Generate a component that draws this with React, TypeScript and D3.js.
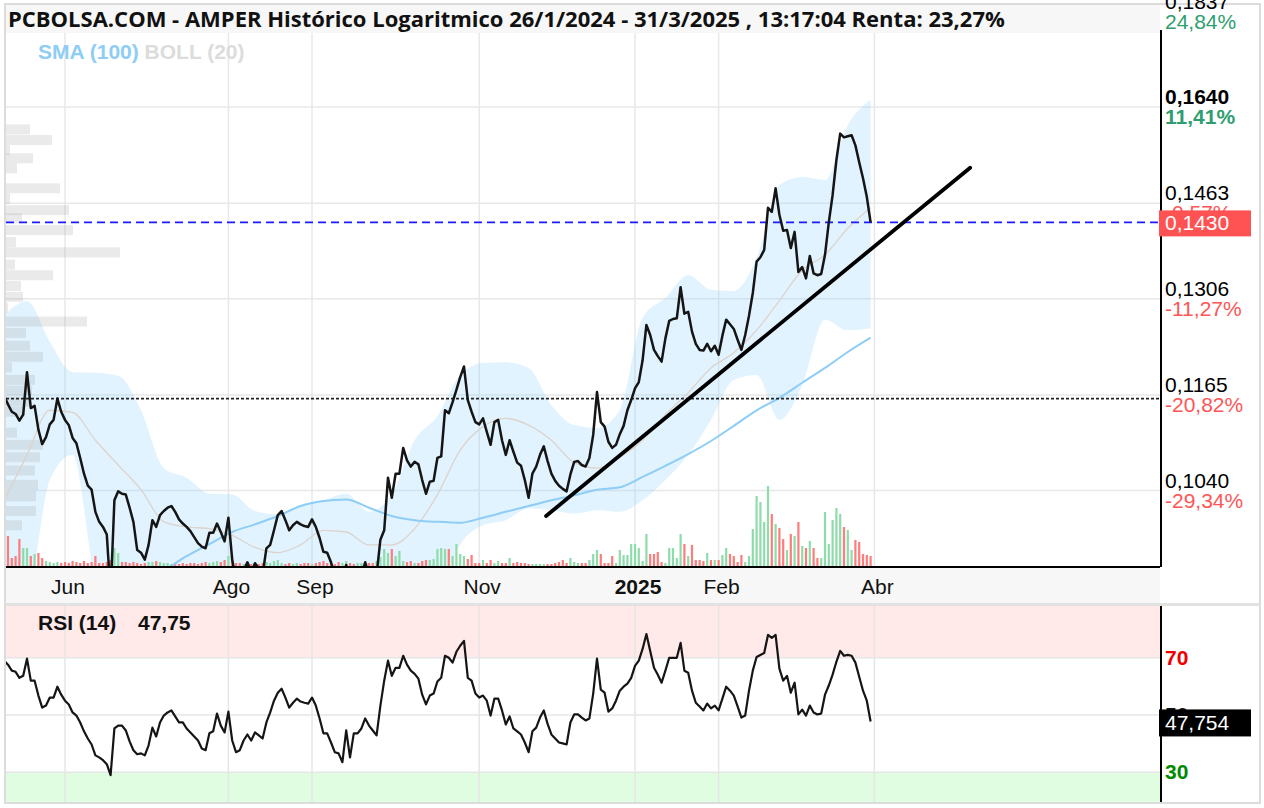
import React from 'react';
import * as d3 from 'd3';

// trading days start here (index 0), BME holidays skipped
const START = '2024-05-10';
const HOLIDAYS = ['2024-12-25', '2024-12-26', '2025-01-01'];

// daily closes, AMPER (EUR)
const closes = [
  0.1163, 0.1152, 0.1142, 0.1139, 0.1130, 0.1138, 0.1197, 0.1147, 0.1150, 0.1118,
  0.1099, 0.1108, 0.1125, 0.1131, 0.1160, 0.1142, 0.1131, 0.1124, 0.1107, 0.1100,
  0.1081, 0.1061, 0.1046, 0.1041, 0.1014, 0.1002, 0.0996, 0.0987, 0.0919, 0.1028,
  0.1039, 0.1036, 0.1035, 0.1019, 0.1002, 0.0969, 0.0966, 0.0958, 0.0975, 0.1004,
  0.0996, 0.1010, 0.1015, 0.1019, 0.1021, 0.1014, 0.1005, 0.1000, 0.0996, 0.0991,
  0.0984, 0.0977, 0.0973, 0.0971, 0.0989, 0.0989, 0.1000, 0.0990, 0.0979, 0.1007,
  0.0958, 0.0935, 0.0930, 0.0946, 0.0955, 0.0944, 0.0954, 0.0948, 0.0941, 0.0971,
  0.0975, 0.0992, 0.1010, 0.1015, 0.1004, 0.0992, 0.0998, 0.1002, 0.0999, 0.0997,
  0.0996, 0.1005, 0.0996, 0.0983, 0.0967, 0.0966, 0.0955, 0.0941, 0.0930, 0.0937,
  0.0952, 0.0935, 0.0924, 0.0930, 0.0941, 0.0955, 0.0941, 0.0930, 0.0941, 0.0981,
  0.0992, 0.1056, 0.1031, 0.1061, 0.1061, 0.1094, 0.1078, 0.1070, 0.1076, 0.1073,
  0.1053, 0.1036, 0.1051, 0.1052, 0.1081, 0.1083, 0.1144, 0.1140, 0.1155, 0.1172,
  0.1190, 0.1205, 0.1158, 0.1142, 0.1128, 0.1125, 0.1133, 0.1115, 0.1098, 0.1128,
  0.1131, 0.1104, 0.1085, 0.1104, 0.1089, 0.1075, 0.1071, 0.1053, 0.1031, 0.1061,
  0.1070, 0.1085, 0.1096, 0.1077, 0.1061, 0.1052, 0.1046, 0.1042, 0.1039, 0.1060,
  0.1076, 0.1077, 0.1072, 0.1070, 0.1081, 0.1111, 0.1169, 0.1128, 0.1122, 0.1102,
  0.1094, 0.1098, 0.1112, 0.1123, 0.1144, 0.1158, 0.1174, 0.1183, 0.1214, 0.1266,
  0.1251, 0.1229, 0.1220, 0.1212, 0.1246, 0.1272, 0.1275, 0.1276, 0.1324, 0.1283,
  0.1286, 0.1256, 0.1238, 0.1229, 0.1228, 0.1238, 0.1227, 0.1235, 0.1222, 0.1250,
  0.1274, 0.1267, 0.1260, 0.1244, 0.1229, 0.1251, 0.1280, 0.1315, 0.1365, 0.1372,
  0.1384, 0.1455, 0.1448, 0.1489, 0.1443, 0.1416, 0.1417, 0.1387, 0.1414, 0.1348,
  0.1356, 0.1338, 0.1374, 0.1346, 0.1343, 0.1345, 0.1376, 0.1430, 0.1477, 0.1540,
  0.1589, 0.1582, 0.1584, 0.1586, 0.1567, 0.1536, 0.1507, 0.1474, 0.1430,
];

// daily volume, millions of shares
const volumes = [
  1.5, 3.0, 0.8, 1.0, 2.7, 1.8, 1.8, 1.0, 1.2, 1.3,
  0.8, 0.5, 0.4, 0.3, 0.4, 0.3, 0.4, 0.3, 0.5, 0.4,
  0.3, 0.5, 0.3, 0.4, 1.0, 0.3, 0.3, 0.4, 0.6, 1.8,
  1.3, 0.4, 0.4, 0.3, 0.4, 0.3, 0.2, 0.3, 0.4, 0.4,
  0.5, 0.4, 0.3, 0.3, 0.2, 0.3, 0.2, 0.3, 0.2, 0.3,
  0.3, 0.2, 0.3, 0.4, 0.3, 0.4, 0.5, 0.4, 0.6, 1.0,
  0.8, 0.3, 0.3, 0.2, 0.3, 0.2, 0.3, 0.2, 0.3, 0.4,
  0.3, 0.5, 0.6, 0.3, 0.2, 0.3, 0.2, 0.3, 0.2, 0.3,
  0.3, 0.2, 0.3, 0.4, 0.5, 0.3, 0.3, 0.2, 0.4, 0.3,
  0.5, 0.3, 0.2, 0.3, 0.3, 0.4, 0.3, 0.3, 0.5, 0.9,
  1.7, 1.3, 1.7, 1.0, 1.5, 0.5, 0.4, 0.5, 0.3, 0.3,
  0.5, 0.6, 0.6, 0.7, 1.7, 1.8, 1.7, 1.7, 1.0, 2.2,
  1.2, 1.0, 0.7, 1.1, 0.3, 0.3, 0.6, 0.3, 0.6, 0.3,
  0.5, 0.3, 0.3, 0.8, 0.3, 0.4, 0.3, 0.3, 0.2, 0.2,
  0.2, 0.2, 0.2, 0.2, 0.2, 0.3, 0.4, 0.6, 0.3, 0.8,
  0.4, 0.3, 0.3, 0.3, 0.6, 1.2, 1.6, 1.2, 0.3, 0.3,
  1.0, 0.3, 1.6, 1.1, 1.1, 2.2, 2.2, 1.8, 0.5, 3.2,
  1.2, 1.2, 1.4, 0.4, 0.3, 1.8, 1.8, 0.8, 3.2, 2.2,
  1.0, 2.1, 0.6, 0.6, 0.5, 1.3, 0.6, 0.6, 0.6, 1.1,
  1.8, 1.2, 1.0, 0.4, 1.1, 0.4, 1.0, 3.7, 7.0, 6.4,
  4.4, 8.0, 5.2, 4.2, 3.8, 2.7, 1.6, 3.2, 3.0, 4.4,
  2.0, 1.8, 2.5, 1.8, 0.8, 0.8, 5.4, 2.2, 4.6, 5.8,
  5.2, 3.9, 3.6, 1.6, 2.6, 2.4, 1.2, 1.1, 1.0,
];

// RSI (14), daily
const rsi14 = [
  69.0, 67.6, 65.5, 65.1, 63.0, 63.7, 69.7, 62.0, 62.0, 56.8,
  52.6, 53.3, 56.1, 56.1, 59.9, 57.1, 55.0, 53.7, 50.9, 49.8,
  47.4, 44.3, 41.8, 39.7, 35.9, 35.2, 34.2, 32.8, 29.0, 45.3,
  46.3, 46.3, 44.6, 40.8, 37.7, 36.3, 36.6, 35.9, 39.4, 45.6,
  42.5, 47.4, 49.8, 50.9, 51.6, 49.5, 47.4, 47.4, 45.3, 43.9,
  42.5, 41.1, 38.3, 37.7, 43.6, 44.3, 50.5, 46.3, 43.9, 51.2,
  41.1, 37.0, 37.7, 41.1, 43.2, 41.1, 43.9, 42.9, 41.8, 47.4,
  50.9, 55.0, 57.8, 59.2, 56.1, 52.6, 54.3, 55.7, 54.7, 54.3,
  54.0, 56.1, 53.3, 48.8, 43.6, 43.6, 40.4, 37.0, 36.6, 33.5,
  44.6, 35.2, 43.6, 43.6, 45.3, 48.8, 46.3, 44.6, 42.9, 53.3,
  62.0, 69.0, 63.7, 66.5, 66.5, 70.7, 67.6, 65.5, 64.4, 62.7,
  57.1, 53.7, 56.8, 57.5, 61.7, 63.0, 70.7, 70.0, 68.3, 72.1,
  74.2, 75.9, 63.0, 62.0, 57.5, 56.1, 56.8, 55.0, 49.8, 55.7,
  55.7, 51.6, 46.7, 49.5, 45.3, 44.3, 43.2, 40.4, 37.0, 44.3,
  45.6, 49.1, 51.6, 46.9, 43.2, 41.8, 40.4, 40.1, 39.7, 47.4,
  50.2, 50.2, 49.1, 48.1, 48.8, 57.5, 69.7, 58.9, 57.8, 51.2,
  52.3, 55.0, 58.5, 59.9, 61.0, 63.0, 67.2, 69.0, 73.1, 78.3,
  72.4, 66.5, 64.1, 61.3, 65.5, 70.0, 70.0, 70.0, 75.2, 65.5,
  64.8, 58.5, 54.3, 53.0, 51.6, 54.0, 52.3, 53.3, 51.6, 55.7,
  59.9, 58.5, 56.8, 53.0, 49.1, 49.8, 58.5, 65.5, 70.3, 71.0,
  71.7, 78.0, 77.0, 78.0, 66.2, 62.0, 63.7, 57.8, 61.3, 50.2,
  51.9, 49.8, 53.3, 50.9, 50.2, 50.5, 57.1, 60.3, 64.1, 68.6,
  72.4, 70.7, 71.0, 70.7, 68.3, 63.4, 58.5, 55.0, 47.754,
];

// Bollinger (20) read every 6 trading days from index 0
const bandStep = 6;
const bollUpper = [
  0.1281, 0.1302, 0.1241, 0.1197, 0.1196, 0.1192, 0.1144, 0.1068, 0.1056, 0.1036,
  0.1035, 0.1015, 0.1011, 0.1022, 0.1028, 0.1036, 0.1014, 0.1035, 0.1104, 0.1136,
  0.1193, 0.1210, 0.1211, 0.1203, 0.1151, 0.1124, 0.1120, 0.1144, 0.1277, 0.1307,
  0.1343, 0.1320, 0.1318, 0.1371, 0.1495, 0.1509, 0.1504, 0.1605, 0.1654,
];
const bollMid = [
  0.1028, 0.1085, 0.1144, 0.1141, 0.1104, 0.1072, 0.1041, 0.1002, 0.0996, 0.0994,
  0.0986, 0.0972, 0.0966, 0.0975, 0.0992, 0.0990, 0.0975, 0.0975, 0.0994, 0.1035,
  0.1091, 0.1122, 0.1133, 0.1124, 0.1104, 0.1075, 0.1068, 0.1082, 0.1104, 0.1138,
  0.1168, 0.1203, 0.1225, 0.1258, 0.1303, 0.1351, 0.1376, 0.1420, 0.1455,
];
const bollLower = [
  0.0892, 0.0913, 0.1053, 0.1085, 0.0935, 0.0892, 0.0872, 0.0872, 0.0882, 0.0892,
  0.0892, 0.0892, 0.0902, 0.0913, 0.0913, 0.0902, 0.0892, 0.0872, 0.0872, 0.0913,
  0.0975, 0.0998, 0.1004, 0.1018, 0.1016, 0.1012, 0.1016, 0.1014, 0.1028, 0.1053,
  0.1085, 0.1131, 0.1186, 0.1193, 0.1131, 0.1179, 0.1274, 0.1258, 0.1261,
];

// SMA (100), every 6 trading days from index 36
const smaStart = 36;
const sma100 = [
  0.0935, 0.0946, 0.0962, 0.0976, 0.0990, 0.0999, 0.1009, 0.1021, 0.1027, 0.1029,
  0.1019, 0.1009, 0.1004, 0.1002, 0.1001, 0.1007, 0.1014, 0.1021, 0.1028, 0.1034,
  0.1041, 0.1044, 0.1057, 0.1071, 0.1086, 0.1103, 0.1123, 0.1144, 0.1161, 0.1182,
  0.1203, 0.1226, 0.1247,
];

// volume by price (left side)
const profilePrices = [
  0.1597, 0.1577, 0.1558, 0.1543, 0.1525, 0.1489, 0.1471, 0.1451, 0.1437, 0.1417,
  0.1397, 0.1380, 0.1360, 0.1343, 0.1326, 0.1309, 0.1292, 0.1271, 0.1254, 0.1235,
  0.1219, 0.1204, 0.1186, 0.1171, 0.1156, 0.1142, 0.1114, 0.1098, 0.1082, 0.1065,
  0.1047, 0.1033, 0.1015, 0.0998,
];
const profileVolumes = [
  2.4, 4.6, 0.4, 2.7, 1.1, 5.4, 0.4, 6.3, 1.6, 6.7,
  1.0, 11.4, 0.9, 4.7, 1.5, 1.7, 0.2, 8.1, 2.0, 2.4,
  3.7, 0.6, 2.9, 2.6, 2.4, 1.9, 1.1, 3.7, 3.4, 2.9,
  3.2, 3.0, 3.0, 1.6,
];

// right axis
const axisPrices = [0.1837, 0.164, 0.1463, 0.1306, 0.1165, 0.104];
const axisPriceLabels = ['0,1837', '0,1640', '0,1463', '0,1306', '0,1165', '0,1040'];
const axisPctLabels = ['24,84%', '11,41%', '-0,57%', '-11,27%', '-20,82%', '-29,34%'];

const monthTicks = ['2024-06-01', '2024-08-01', '2024-09-01', '2024-11-01', '2025-01-01', '2025-02-01', '2025-04-01'];
const monthLabels = ['Jun', 'Ago', 'Sep', 'Nov', '2025', 'Feb', 'Abr'];

// drawn support line: [trading day index, price]
const trendLine: [number, number][] = [[142.6, 0.1009], [254.2, 0.1526]];
const refPrice = 0.116;

const rsiLevels = [70, 50, 30];

const FONT = '"Liberation Sans", Arial, sans-serif';

export default function App() {
  const W = 1264;
  const H = 808;
  const L = 6, R = 1160, T = 33, B = 567;
  const rT = 606, rB = 802;

  const parse = d3.timeParse('%Y-%m-%d');
  const fmt = d3.timeFormat('%Y-%m-%d');
  const tradingDays = d3.timeDay
    .range(parse(START)!, parse('2025-04-30')!)
    .filter((d) => d.getDay() !== 0 && d.getDay() !== 6 && !HOLIDAYS.includes(fmt(d)));
  const dayOf = (s: string) => tradingDays.findIndex((d) => d >= parse(s)!);

  const x = d3.scaleLinear().domain([0, closes.length - 1]).range([4.2, 870.6]);
  const y = d3.scaleLog().domain([0.09497, 0.17907]).range([B, T]);
  const yr = d3.scaleLinear().domain([19.6, 88.1]).range([rB, rT]);
  const yv = d3.scaleLinear().domain([0, 8]).range([B - 1, B - 81]);
  const xp = d3.scaleLinear().domain([0, 12]).range([0, 120]);

  const bandX = (k: number) => x(k * bandStep);
  const area = d3
    .area<number>()
    .x((_, k) => bandX(k))
    .y0((_, k) => y(bollLower[k]))
    .y1((d) => y(d))
    .curve(d3.curveMonotoneX);
  const bandLine = d3.line<number>().x((_, k) => bandX(k)).y((d) => y(d)).curve(d3.curveMonotoneX);
  const smaLine = d3
    .line<number>()
    .x((_, k) => x(smaStart + k * bandStep))
    .y((d) => y(d))
    .curve(d3.curveMonotoneX);
  const priceLine = d3.line<number>().x((_, i) => x(i)).y((d) => y(d));
  const rsiLine = d3.line<number>().x((_, i) => x(i)).y((d) => yr(d));

  const tickX = monthTicks.map((m) => x(dayOf(m)));
  const last = closes[closes.length - 1];
  const lastRsi = rsi14[rsi14.length - 1];

  return (
    <svg
      width={W}
      height={H}
      style={{ position: 'absolute', left: 0, top: 0, background: '#fff' }}
      fontFamily={FONT}
    >
      <defs>
        <clipPath id="main">
          <rect x={L} y={T} width={R - L} height={B - T} />
        </clipPath>
        <clipPath id="rsi">
          <rect x={L} y={rT} width={R - L} height={rB - rT} />
        </clipPath>
      </defs>

      {/* frame and bands */}
      <rect x={6} y={5} width={R - 6} height={T - 5} fill="#f7f7f7" />
      <rect x={L} y={B} width={R - L} height={603 - B} fill="#f7f7f7" />
      <rect x={5} y={603} width={1255} height={3} fill="#e2e2e2" />
      <rect x={5} y={4} width={1255} height={799} fill="none" stroke="#dcdcdc" strokeWidth={2} />

      <text x={8} y={27} fontFamily='"Open Sans", sans-serif' fontWeight="bold" fontSize={22} fill="#111">
        PCBOLSA.COM - AMPER Histórico Logaritmico 26/1/2024 - 31/3/2025 , 13:17:04 Renta: 23,27%
      </text>

      {/* main panel */}
      <g clipPath="url(#main)">
        {tickX.map((tx, k) => (
          <line key={'vg' + k} x1={tx} x2={tx} y1={T} y2={B} stroke="#e8e8e8" strokeWidth={1.5} />
        ))}
        {axisPrices.map((p, k) => (
          <line key={'hg' + k} x1={L} x2={R} y1={y(p)} y2={y(p)} stroke="#e8e8e8" strokeWidth={1.5} />
        ))}
        <path d={area(bollUpper) || ''} fill="rgba(135,206,250,0.25)" />
        {profilePrices.map((p, k) => (
          <rect key={'pf' + k} x={L} y={y(p) - 5} width={xp(profileVolumes[k])} height={10} fill="rgba(160,160,160,0.22)" />
        ))}
        {volumes.map((v, i) => {
          const up = i === 0 || closes[i] >= closes[i - 1];
          return (
            <rect
              key={'v' + i}
              x={x(i) - 1.1}
              y={yv(v)}
              width={2.2}
              height={yv(0) - yv(v)}
              fill={up ? '#8ddcaa' : '#ff7c7c'}
            />
          );
        })}
        <path d={bandLine(bollMid) || ''} fill="none" stroke="#ddd3cb" strokeWidth={1.3} />
        <path d={smaLine(sma100) || ''} fill="none" stroke="#8ecdf5" strokeWidth={2} />
        <line x1={L} x2={R} y1={y(refPrice)} y2={y(refPrice)} stroke="#222" strokeWidth={1.6} strokeDasharray="3,2" />
        <line x1={L} x2={R} y1={y(last)} y2={y(last)} stroke="#1a1aff" strokeWidth={1.8} strokeDasharray="8,5" />
        <path d={priceLine(closes) || ''} fill="none" stroke="#151515" strokeWidth={2.5} strokeLinejoin="round" />
        <line
          x1={x(trendLine[0][0])}
          y1={y(trendLine[0][1])}
          x2={x(trendLine[1][0])}
          y2={y(trendLine[1][1])}
          stroke="#000"
          strokeWidth={3.8}
          strokeLinecap="round"
        />
      </g>
      <line x1={L} x2={R} y1={B} y2={B} stroke="#000" strokeWidth={2} />
      <line x1={1161} x2={1161} y1={30} y2={B} stroke="#000" strokeWidth={2} />

      <text x={38} y={59} fontSize={21} fontWeight="bold">
        <tspan fill="#8ecdf5">SMA (100)</tspan>
        <tspan fill="#dcdcdc"> BOLL (20)</tspan>
      </text>

      {/* right axis labels */}
      {axisPrices.map((p, k) => (
        <g key={'al' + k}>
          <text x={1165} y={y(p) - 3} fontSize={21} fontWeight={k === 1 ? 'bold' : 'normal'} fill="#000">
            {axisPriceLabels[k]}
          </text>
          <text
            x={1165}
            y={y(p) + 17}
            fontSize={21}
            fontWeight={k === 1 ? 'bold' : 'normal'}
            fill={axisPctLabels[k].startsWith('-') ? '#ff5555' : '#2e9e6e'}
          >
            {axisPctLabels[k]}
          </text>
        </g>
      ))}
      <rect x={1159} y={y(last) - 12} width={92} height={26} fill="#ff5252" />
      <text x={1165} y={y(last) + 8} fontSize={21} fill="#fff">
        {d3.format('.4f')(last).replace('.', ',')}
      </text>

      {/* x axis labels */}
      {monthLabels.map((m, k) => (
        <text
          key={'ml' + k}
          x={tickX[k] + 3}
          y={594}
          textAnchor="middle"
          fontSize={21}
          fontWeight={m === '2025' ? 'bold' : 'normal'}
          fill="#111"
        >
          {m}
        </text>
      ))}

      {/* RSI panel */}
      <g clipPath="url(#rsi)">
        <rect x={L} y={rT} width={R - L} height={yr(70) - rT} fill="#ffe9e9" />
        <rect x={L} y={yr(30)} width={R - L} height={rB - yr(30)} fill="#e1fde1" />
        {tickX.map((tx, k) => (
          <line key={'rvg' + k} x1={tx} x2={tx} y1={rT} y2={rB} stroke="#e6e6e6" strokeWidth={1.5} />
        ))}
        {rsiLevels.map((lv) => (
          <line key={'rl' + lv} x1={L} x2={R} y1={yr(lv)} y2={yr(lv)} stroke="#e6e6e6" strokeWidth={1.5} />
        ))}
        <path d={rsiLine(rsi14) || ''} fill="none" stroke="#151515" strokeWidth={2.2} strokeLinejoin="round" />
      </g>
      <line x1={1161} x2={1161} y1={rT} y2={rB} stroke="#000" strokeWidth={2} />
      <text x={38} y={630} fontSize={21} fontWeight="bold" fill="#111">
        RSI (14)
        <tspan x={138}>{d3.format('.2f')(lastRsi).replace('.', ',')}</tspan>
      </text>
      {rsiLevels.map((lv) => (
        <text
          key={'rt' + lv}
          x={1165}
          y={yr(lv) + 7}
          fontSize={21}
          fontWeight="bold"
          fill={lv === 70 ? '#ee0000' : lv === 30 ? '#008a00' : '#111'}
        >
          {lv}
        </text>
      ))}
      <rect x={1159} y={yr(lastRsi) - 12} width={92} height={27} fill="#000" />
      <text x={1165} y={yr(lastRsi) + 9} fontSize={21} fill="#fff">
        {d3.format('.3f')(lastRsi).replace('.', ',')}
      </text>
    </svg>
  );
}
